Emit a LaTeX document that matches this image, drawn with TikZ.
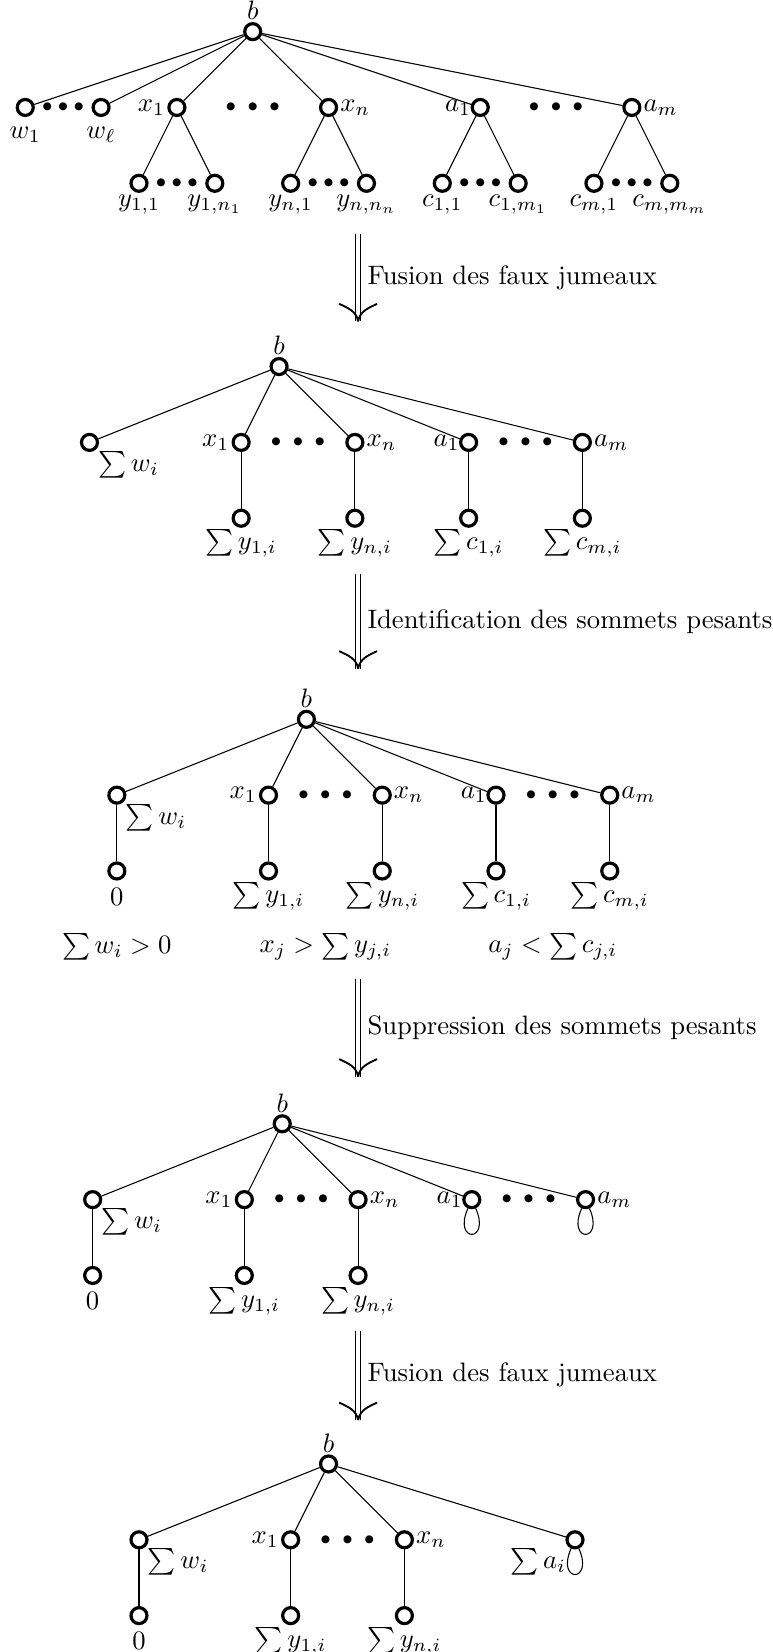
\documentclass[tikz,border=0pt]{standalone}
\usepackage{amsmath, amssymb}
\usepackage{xcolor}
\usetikzlibrary{arrows.meta, positioning}
\tikzset{
  sommet/.style={circle, draw, line width=1.2pt, inner sep=0pt, minimum size=6pt},
  etiq/.style={inner sep=0.6pt},
  serres/.style={font=\scriptsize, inner sep=0pt},
  fleche/.style={double, double distance=1.4pt},
  boucle/.style={loop below, out=-114, in=-66, min distance=5mm},
  every loop/.style={}
}
\newcommand{\ptsserres}{$\bullet\bullet\bullet$}
\newcommand{\ptslarges}{$\bullet\;\bullet\;\bullet$}

\begin{document}
\begin{tikzpicture}
\useasboundingbox (-3.333,0.417) rectangle (6.861,-21.369);
% arbre de depart
\begin{scope}[every node/.style={sommet}]
    \node (B) at (0,0) {};
    \node (W1) at (-3,-1) {};
    \node (WL) at (-2,-1) {};
    \node (X1) at (-1,-1) {};
    \node (XN) at (1,-1) {};
    \node (A1) at (3,-1) {};
    \node (AM) at (5,-1) {};
    \node (Y11) at (-1.5,-2) {};
    \node (Y1N) at (-0.5,-2) {};
    \node (YN1) at (0.5,-2) {};
    \node (YNN) at (1.5,-2) {};
    \node (C11) at (2.5,-2) {};
    \node (C1M) at (3.5,-2) {};
    \node (CM1) at (4.5,-2) {};
    \node (CMM) at (5.5,-2) {};
\end{scope}
\node[serres] (p1) at (-2.5,-1) {\ptsserres};
\node[serres] (p2) at (0,-1) {\ptslarges};
\node[serres] (p3) at (4,-1) {\ptslarges};
\node[serres] (p4) at (-1,-2) {\ptsserres};
\node[serres] (p5) at (1,-2) {\ptsserres};
\node[serres] (p6) at (3,-2) {\ptsserres};
\node[serres] (p7) at (5,-2) {\ptsserres};
\node[etiq, above=0pt of B] (tB) {$b$};
\node[etiq, below=3pt of W1] (tW1) {$w_1$};
\node[etiq, below=3pt of WL] (tWL) {$w_\ell$};
\node[etiq, left=0pt of X1] (tX1) {$x_1$};
\node[etiq, right=0pt of XN] (tXN) {$x_n$};
\node[etiq, left=-1pt of A1] (tA1) {$a_1$};
\node[etiq, right=0pt of AM] (tAM) {$a_m$};
\node[etiq, below=0pt of Y11] (tY11) {$y_{1,1}$};
\node[etiq, below=0pt of Y1N] (tY1N) {$y_{1,n_1}$};
\node[etiq, below=0pt of YN1] (tYN1) {$y_{n,1}$};
\node[etiq, below=0pt of YNN] (tYNN) {$y_{n,n_n}$};
\node[etiq, below=0pt of C11] (tC11) {$c_{1,1}$};
\node[etiq, below=0pt of C1M] (tC1M) {$c_{1,m_1}$};
\node[etiq, below=0pt of CM1] (tCM1) {$c_{m,1}$};
\node[etiq, below=0pt of CMM] (tCMM) {$c_{m,m_m}$};
\begin{scope}[every edge/.style={draw=black, thin}]
    \path [-] (B) edge (W1) edge (WL) edge (X1) edge (XN) edge (A1) edge (AM);
    \path [-] (X1) edge (Y11) edge (Y1N);
    \path [-] (XN) edge (YN1) edge (YNN);
    \path [-] (A1) edge (C11) edge (C1M);
    \path [-] (AM) edge (CM1) edge (CMM);
\end{scope}

\coordinate (h1) at (1.39,-2.67);
\coordinate (f1) at (1.39,-3.82);
\draw[fleche] (h1) -- node[right] (e1) {Fusion des faux jumeaux} (f1);

% apres fusion
\begin{scope}[shift={(0.347,-4.417)}]
\begin{scope}[every node/.style={sommet}]
    \node (B2) at (0,0) {};
    \node (W2) at (-2.5,-1) {};
    \node (X2a) at (-0.5,-1) {};
    \node (X2b) at (1,-1) {};
    \node (A2a) at (2.5,-1) {};
    \node (A2b) at (4,-1) {};
    \node (Y2a) at (-0.5,-2) {};
    \node (Y2b) at (1,-2) {};
    \node (C2a) at (2.5,-2) {};
    \node (C2b) at (4,-2) {};
\end{scope}
\node[serres] (p8) at (0.25,-1) {\ptslarges};
\node[serres] (p9) at (3.25,-1) {\ptslarges};
\end{scope}
\node[etiq, above=0pt of B2] (tB2) {$b$};
\node[etiq, below right=0pt of W2] (tW2) {$\sum w_i$};
\node[etiq, left=0pt of X2a] (tX2a) {$x_1$};
\node[etiq, right=0pt of X2b] (tX2b) {$x_n$};
\node[etiq, left=-1pt of A2a] (tA2a) {$a_1$};
\node[etiq, right=0pt of A2b] (tA2b) {$a_m$};
\node[etiq, below=0pt of Y2a] (tY2a) {$\sum y_{1,i}$};
\node[etiq, below=0pt of Y2b] (tY2b) {$\sum y_{n,i}$};
\node[etiq, below=0pt of C2a] (tC2a) {$\sum c_{1,i}$};
\node[etiq, below=0pt of C2b] (tC2b) {$\sum c_{m,i}$};
\begin{scope}[every edge/.style={draw=black, thin}]
    \path [-] (B2) edge (W2) edge (X2a) edge (X2b) edge (A2a) edge (A2b);
    \path [-] (X2a) edge (Y2a);
    \path [-] (X2b) edge (Y2b);
    \path [-] (A2a) edge (C2a);
    \path [-] (A2b) edge (C2b);
\end{scope}

\coordinate (h2) at (1.39,-7.15);
\coordinate (f2) at (1.39,-8.40);
\draw[fleche] (h2) -- node[right] (e2) {Identification des sommets pesants} (f2);

% sommets pesants
\begin{scope}[shift={(0.708,-9.069)}]
\begin{scope}[every node/.style={sommet}]
    \node (B3) at (0,0) {};
    \node (W3) at (-2.5,-1) {};
    \node (X3a) at (-0.5,-1) {};
    \node (X3b) at (1,-1) {};
    \node (A3a) at (2.5,-1) {};
    \node (A3b) at (4,-1) {};
    \node (Z3) at (-2.5,-2) {};
    \node (Y3a) at (-0.5,-2) {};
    \node (Y3b) at (1,-2) {};
    \node (C3a) at (2.5,-2) {};
    \node (C3b) at (4,-2) {};
\end{scope}
\node[serres] (p10) at (0.25,-1) {\ptslarges};
\node[serres] (p11) at (3.25,-1) {\ptslarges};
\node (k1) at (-2.5,-3) {$\sum w_i > 0$};
\node (k2) at (0.25,-3) {$x_j > \sum y_{j,i}$};
\node (k3) at (3.25,-3) {$a_j < \sum c_{j,i}$};
\end{scope}
\node[etiq, above=0pt of B3] (tB3) {$b$};
\node[etiq, below right=0pt of W3] (tW3) {$\sum w_i$};
\node[etiq, left=0pt of X3a] (tX3a) {$x_1$};
\node[etiq, right=0pt of X3b] (tX3b) {$x_n$};
\node[etiq, left=-1pt of A3a] (tA3a) {$a_1$};
\node[etiq, right=0pt of A3b] (tA3b) {$a_m$};
\node[etiq, below=2pt of Z3] (tZ3) {$0$};
\node[etiq, below=0pt of Y3a] (tY3a) {$\sum y_{1,i}$};
\node[etiq, below=0pt of Y3b] (tY3b) {$\sum y_{n,i}$};
\node[etiq, below=0pt of C3a] (tC3a) {$\sum c_{1,i}$};
\node[etiq, below=0pt of C3b] (tC3b) {$\sum c_{m,i}$};
\begin{scope}[every edge/.style={draw=black, thin}]
    \path [-] (B3) edge (W3) edge (X3a) edge (X3b) edge (A3a) edge (A3b);
    \path [-] (W3) edge (Z3);
    \path [-] (X3a) edge (Y3a);
    \path [-] (X3b) edge (Y3b);
    \path [-] (A3a) edge (C3a);
    \path [-] (A3b) edge (C3b);
\end{scope}

\coordinate (h3) at (1.39,-12.50);
\coordinate (f3) at (1.39,-13.78);
\draw[fleche] (h3) -- node[right] (e3) {Suppression des sommets pesants} (f3);

% apres suppression
\begin{scope}[shift={(0.389,-14.403)}]
\begin{scope}[every node/.style={sommet}]
    \node (B4) at (0,0) {};
    \node (W4) at (-2.5,-1) {};
    \node (X4a) at (-0.5,-1) {};
    \node (X4b) at (1,-1) {};
    \node (A4a) at (2.5,-1) {};
    \node (A4b) at (4,-1) {};
    \node (Z4) at (-2.5,-2) {};
    \node (Y4a) at (-0.5,-2) {};
    \node (Y4b) at (1,-2) {};
\end{scope}
\node[serres] (p12) at (0.25,-1) {\ptslarges};
\node[serres] (p13) at (3.25,-1) {\ptslarges};
\end{scope}
\node[etiq, above=0pt of B4] (tB4) {$b$};
\node[etiq, below right=0pt of W4] (tW4) {$\sum w_i$};
\node[etiq, left=0pt of X4a] (tX4a) {$x_1$};
\node[etiq, right=0pt of X4b] (tX4b) {$x_n$};
\node[etiq, left=-1pt of A4a] (tA4a) {$a_1$};
\node[etiq, right=0pt of A4b] (tA4b) {$a_m$};
\node[etiq, below=2pt of Z4] (tZ4) {$0$};
\node[etiq, below=0pt of Y4a] (tY4a) {$\sum y_{1,i}$};
\node[etiq, below=0pt of Y4b] (tY4b) {$\sum y_{n,i}$};
\begin{scope}[every edge/.style={draw=black, thin}]
    \path [-] (B4) edge (W4) edge (X4a) edge (X4b) edge (A4a) edge (A4b);
    \path [-] (W4) edge (Z4);
    \path [-] (X4a) edge (Y4a);
    \path [-] (X4b) edge (Y4b);
    \path [-] (A4a) edge[boucle] (A4a);
    \path [-] (A4b) edge[boucle] (A4b);
\end{scope}

\coordinate (h4) at (1.39,-17.13);
\coordinate (f4) at (1.39,-18.31);
\draw[fleche] (h4) -- node[right] (e4) {Fusion des faux jumeaux} (f4);

% pointes des fleches
\foreach \f in {f1,f2,f3,f4} {
    \draw[line width=0.7pt] (\f) to[out=100, in=-25] ++(-0.25,0.23);
    \draw[line width=0.7pt] (\f) to[out=80, in=205] ++(0.25,0.23);
}

% arbre final
\begin{scope}[shift={(1,-18.889)}]
\begin{scope}[every node/.style={sommet}]
    \node (B5) at (0,0) {};
    \node (W5) at (-2.5,-1) {};
    \node (X5a) at (-0.5,-1) {};
    \node (X5b) at (1,-1) {};
    \node (A5) at (3.25,-1) {};
    \node (Z5) at (-2.5,-2) {};
    \node (Y5a) at (-0.5,-2) {};
    \node (Y5b) at (1,-2) {};
\end{scope}
\node[serres] (p14) at (0.25,-1) {\ptslarges};
\end{scope}
\node[etiq, above=0pt of B5] (tB5) {$b$};
\node[etiq, below right=0pt of W5] (tW5) {$\sum w_i$};
\node[etiq, left=0pt of X5a] (tX5a) {$x_1$};
\node[etiq, right=0pt of X5b] (tX5b) {$x_n$};
\node[etiq, below left=0pt of A5] (tA5) {$\sum a_i$};
\node[etiq, below=2pt of Z5] (tZ5) {$0$};
\node[etiq, below=0pt of Y5a] (tY5a) {$\sum y_{1,i}$};
\node[etiq, below=0pt of Y5b] (tY5b) {$\sum y_{n,i}$};
\begin{scope}[every edge/.style={draw=black, thin}]
    \path [-] (B5) edge (W5) edge (X5a) edge (X5b) edge (A5);
    \path [-] (W5) edge (Z5);
    \path [-] (X5a) edge (Y5a);
    \path [-] (X5b) edge (Y5b);
    \path [-] (A5) edge[boucle] (A5);
\end{scope}
\end{tikzpicture}
\end{document}
